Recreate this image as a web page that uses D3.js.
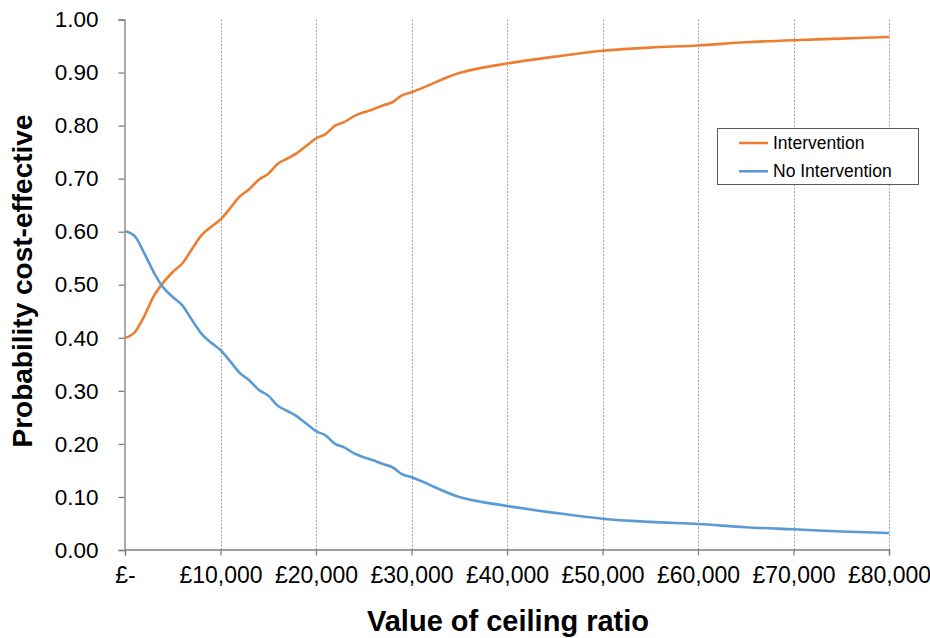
<!DOCTYPE html>
<html>
<head>
<meta charset="utf-8">
<script src="https://cdn.jsdelivr.net/npm/d3@7"></script>
<style>
  body { margin: 0; background: #fff; }
  svg { display: block; font-family: "Liberation Sans", Arial, sans-serif; }
</style>
</head>
<body>
<svg id="chart" width="930" height="638"></svg>
<script>
// Ceiling ratio values (£)
const ceiling = [0,1000,2000,3000,4000,5000,6000,7000,8000,9000,10000,
  11000,12000,13000,14000,15000,16000,17000,18000,19000,20000,
  21000,22000,23000,24000,25000,26000,27000,28000,29000,30000,
  35000,40000,45000,50000,55000,60000,65000,70000,75000,80000];

const intervention = [0.400,0.410,0.440,0.478,0.504,0.524,0.540,0.567,0.593,0.609,0.623,
  0.644,0.666,0.680,0.698,0.709,0.728,0.738,0.748,0.762,0.776,
  0.784,0.800,0.807,0.818,0.825,0.831,0.838,0.844,0.857,0.863,
  0.899,0.917,0.930,0.941,0.947,0.951,0.957,0.961,0.964,0.967];

const noIntervention = [0.601,0.592,0.560,0.524,0.495,0.477,0.461,0.434,0.408,0.391,0.377,
  0.356,0.334,0.320,0.302,0.291,0.272,0.262,0.252,0.238,0.224,
  0.216,0.200,0.193,0.182,0.175,0.169,0.162,0.156,0.143,0.137,
  0.100,0.083,0.070,0.059,0.053,0.049,0.043,0.039,0.035,0.032];

const seriesNames = ["Intervention", "No Intervention"];
const seriesColors = ["#ED7D31", "#5B9BD5"];
const xTicks = [0,10000,20000,30000,40000,50000,60000,70000,80000];
const yTicks = [0,0.1,0.2,0.3,0.4,0.5,0.6,0.7,0.8,0.9,1.0];
const xTitle = "Value of ceiling ratio";
const yTitle = "Probability cost-effective";

(function () {
const svg = d3.select("#chart");
const mLeft = 125, mRight = 889, mTop = 19.5, mBottom = 550;

const x = d3.scaleLinear().domain([0, 80000]).range([mLeft, mRight]);
const y = d3.scaleLinear().domain([0, 1]).range([mBottom, mTop]);

const fmtX = v => v === 0 ? "£-" : "£" + d3.format(",")(v);

// vertical gridlines
svg.append("g").selectAll("line")
  .data(xTicks.filter(d => d > 0))
  .join("line")
  .attr("x1", d => Math.round(x(d)) + 0.5).attr("x2", d => Math.round(x(d)) + 0.5)
  .attr("y1", mTop).attr("y2", mBottom)
  .attr("stroke", "#a6a6a6").attr("stroke-width", 1)
  .attr("stroke-dasharray", "2,1.5");

// y axis
const yAxis = d3.axisLeft(y).tickValues(yTicks).tickSize(6).tickPadding(20)
  .tickFormat(d3.format(".2f"));
const gy = svg.append("g").attr("transform", `translate(${mLeft - 0.5},0)`).call(yAxis);
gy.select(".domain").attr("stroke", "#7f7f7f").attr("stroke-width", 1.3);
gy.selectAll(".tick line").attr("stroke", "#7f7f7f").attr("stroke-width", 1.3);
gy.selectAll(".tick text").attr("font-size", 22.5).attr("fill", "#000")
  .attr("font-family", "Liberation Sans, Arial, sans-serif");

// x axis
const xAxis = d3.axisBottom(x).tickValues(xTicks).tickSize(6).tickPadding(11)
  .tickFormat(fmtX);
const gx = svg.append("g").attr("transform", `translate(0,${mBottom - 0.5})`).call(xAxis);
gx.select(".domain").attr("stroke", "#7f7f7f").attr("stroke-width", 1.3);
gx.selectAll(".tick line").attr("stroke", "#7f7f7f").attr("stroke-width", 1.3);
gx.selectAll(".tick text").attr("font-size", 23).attr("fill", "#000")
  .attr("font-family", "Liberation Sans, Arial, sans-serif");

// lines
const line = d3.line().x((d, i) => x(ceiling[i])).y(d => y(d)).curve(d3.curveMonotoneX);
[intervention, noIntervention].forEach((s, k) => {
  svg.append("path").datum(s)
    .attr("d", line)
    .attr("fill", "none")
    .attr("stroke", seriesColors[k])
    .attr("stroke-width", 2.6)
    .attr("stroke-linejoin", "round");
});

// axis titles
svg.append("text")
  .attr("x", 508).attr("y", 631)
  .attr("text-anchor", "middle")
  .attr("font-size", 29).attr("font-weight", "bold")
  .text(xTitle);

svg.append("text")
  .attr("transform", `translate(32,281) rotate(-90)`)
  .attr("text-anchor", "middle")
  .attr("font-size", 28).attr("font-weight", "bold")
  .text(yTitle);

// legend
const lg = svg.append("g");
lg.append("rect").attr("x", 717.5).attr("y", 128.5).attr("width", 201).attr("height", 56)
  .attr("fill", "#fff").attr("stroke", "#595959").attr("stroke-width", 1);
seriesNames.forEach((n, i) => {
  const yy = 143 + i * 28.3;
  lg.append("line").attr("x1", 739).attr("x2", 768).attr("y1", yy).attr("y2", yy)
    .attr("stroke", seriesColors[i]).attr("stroke-width", 2.6);
  lg.append("text").attr("x", 773).attr("y", yy + 6).attr("font-size", 17.5)
    .attr("fill", "#000").text(n);
});
})();
</script>
</body>
</html>
